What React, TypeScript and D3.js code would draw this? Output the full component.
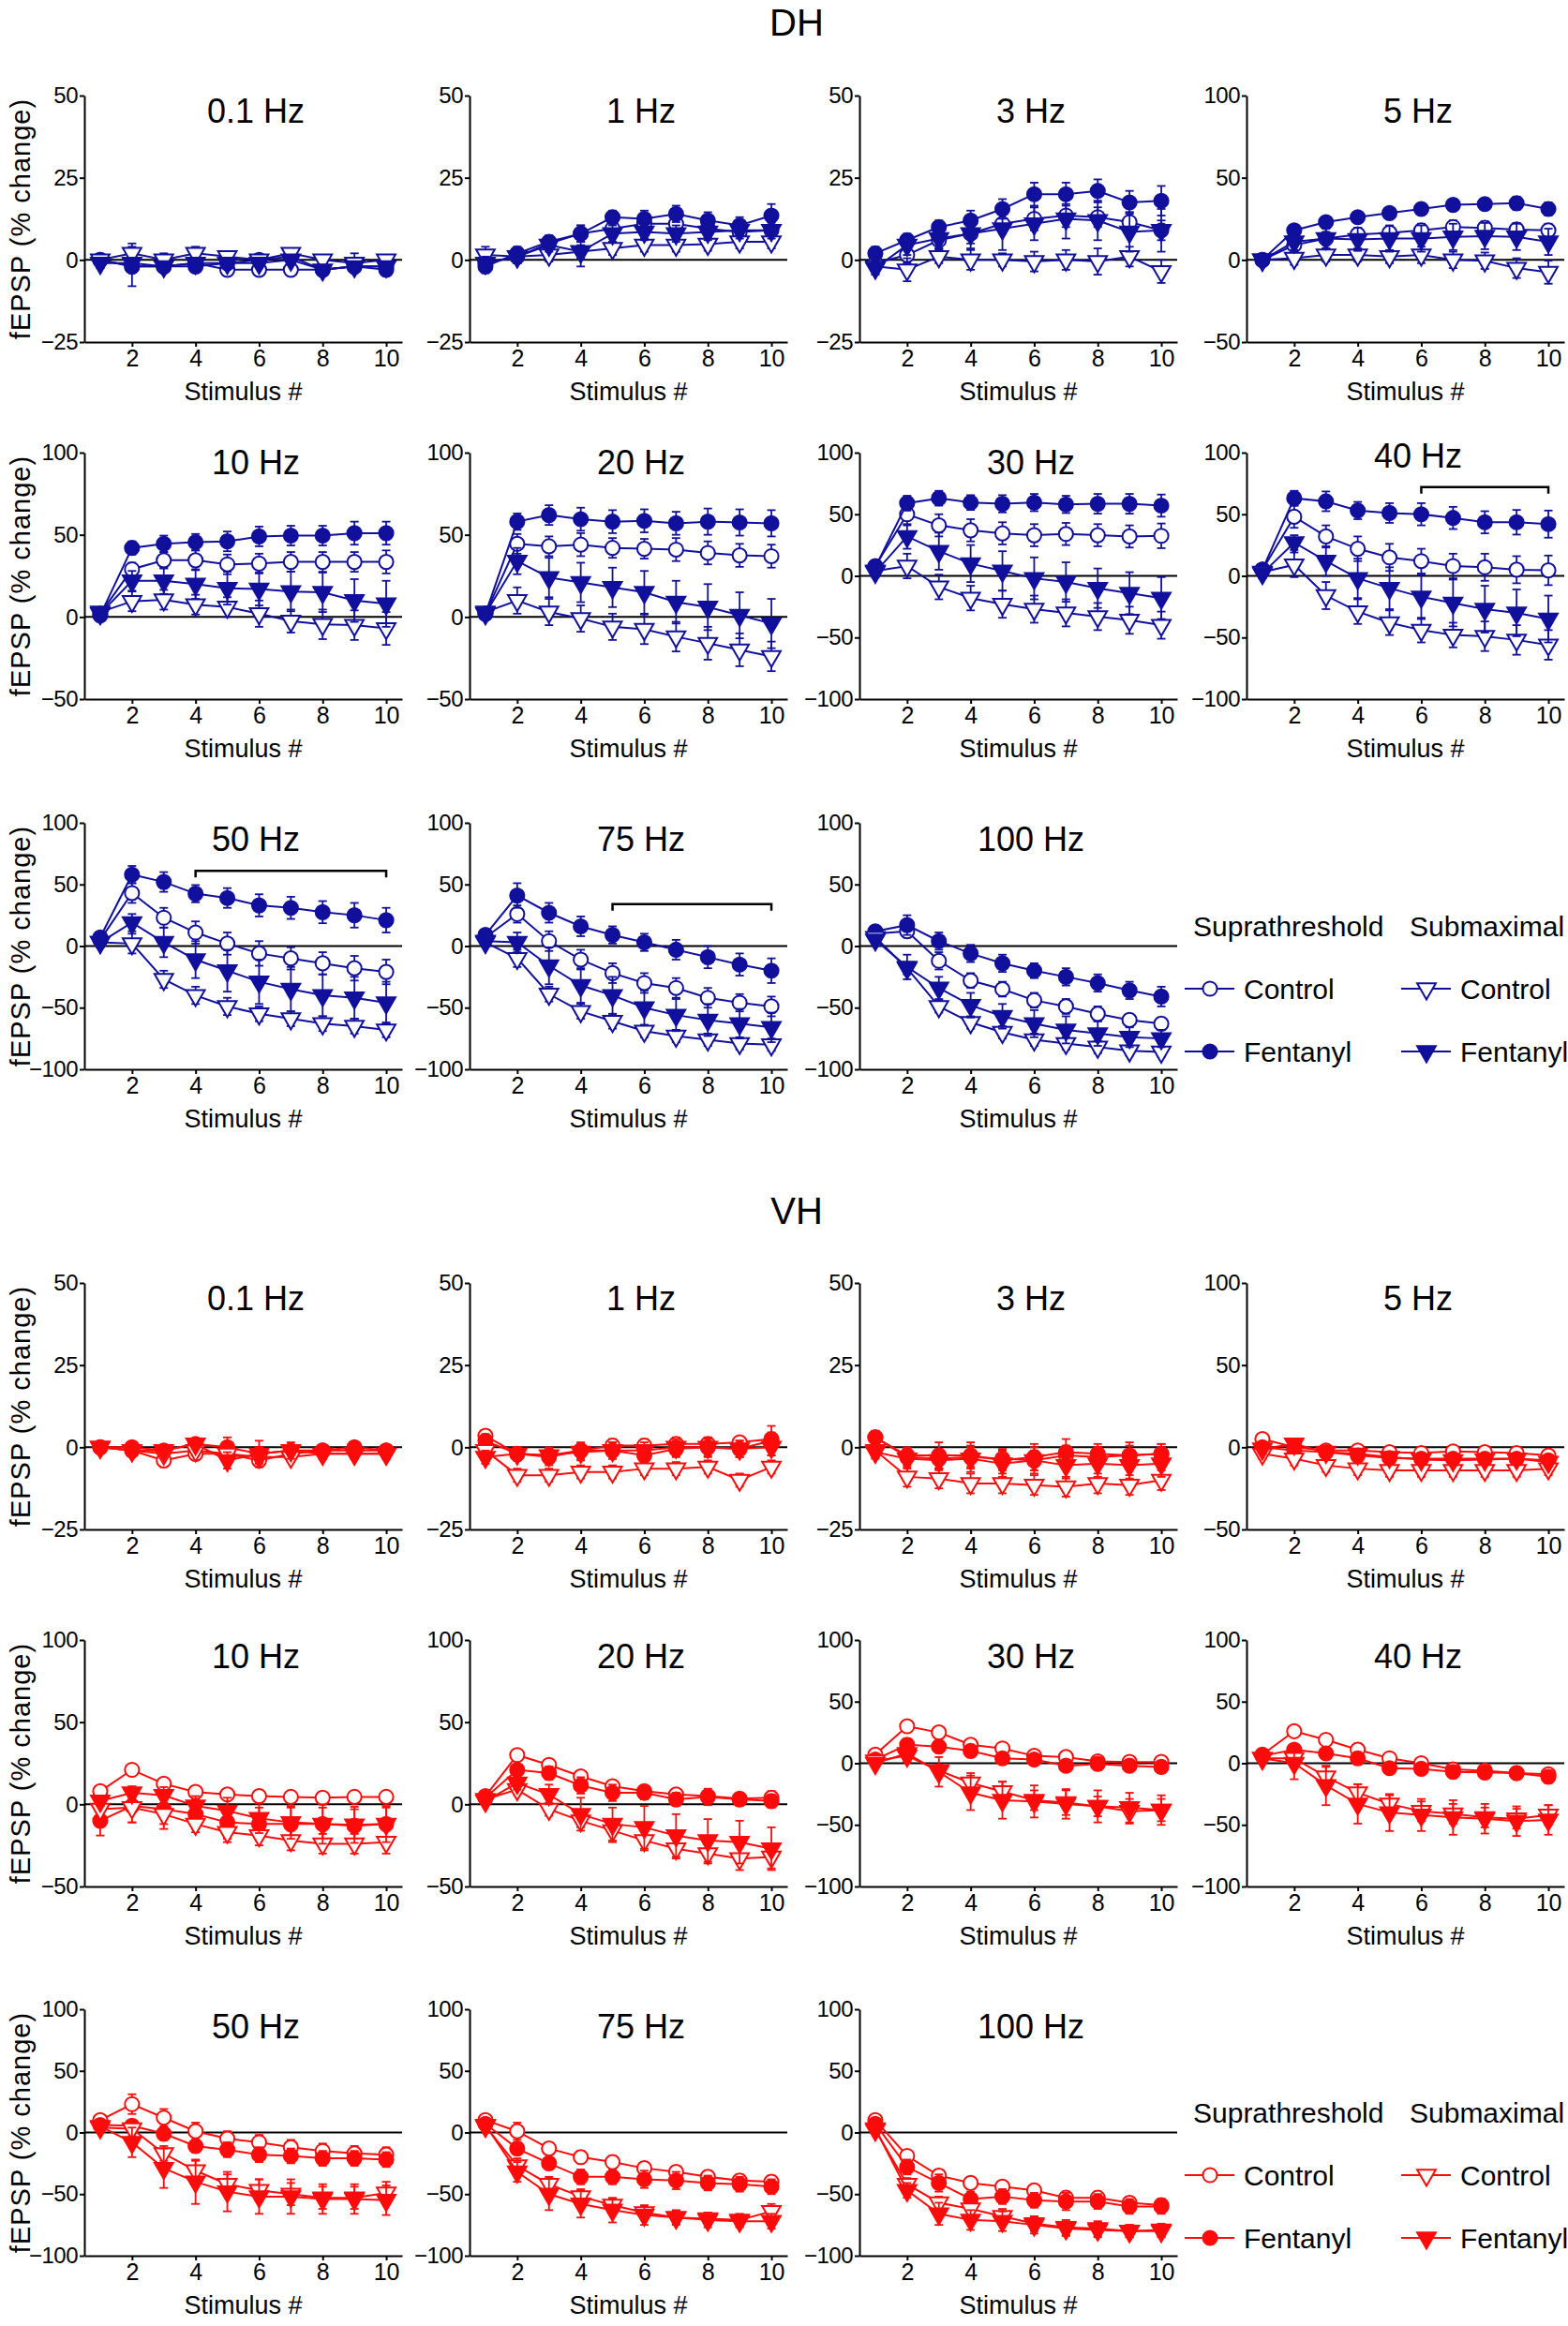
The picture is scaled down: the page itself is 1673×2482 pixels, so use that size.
import React, { useEffect, useRef } from "react";
import * as d3 from "d3";

// stimulus numbers (x categories) and tick sets
const stimulusNumbers = [1, 2, 3, 4, 5, 6, 7, 8, 9, 10];
const xTickValues = [2, 4, 6, 8, 10];
const ticksSmall = [-25, 0, 25, 50];
const ticksMid = [-50, 0, 50, 100];
const ticksLarge = [-100, -50, 0, 50, 100];

const frequencies = ["0.1 Hz", "1 Hz", "3 Hz", "5 Hz", "10 Hz", "20 Hz", "30 Hz", "40 Hz", "50 Hz", "75 Hz", "100 Hz"];
const panelTicks = [ticksSmall, ticksSmall, ticksSmall, ticksMid, ticksMid, ticksMid, ticksLarge, ticksLarge, ticksLarge, ticksLarge, ticksLarge];

// series order in every panel: supra control, supra fentanyl, submax control, submax fentanyl
// ---- DH means / SEM ----
const dh_0p1 = [
  [0, -2, -2, -1, -3, -3, -3, -3, -2, -2],
  [0, -2, -2, -2, -1, 0, 1, -3, -2, -3],
  [0, 2, 0, 2, 1, 0, 2, 0, -1, 0],
  [-1, -1, -2, -1, -1, -1, 0, -3, -2, -2],
];
const dh_0p1_sem = [
  [1, 1, 1, 1, 1, 1.5, 1, 1, 1.5, 1],
  [1, 6, 1.5, 1.5, 1, 1, 1, 1.5, 1.5, 1.5],
  [1, 3, 2, 2, 1.5, 1.5, 1.5, 1.5, 3, 1.5],
  [1.5, 1.5, 1.5, 1.5, 1.5, 1.5, 1.5, 1.5, 1.5, 1.5],
];
const dh_1 = [
  [-1, 1, 5, 8, 9.5, 11, 11, 9.5, 8.5, 9],
  [-2, 2, 5.5, 8, 13, 12.5, 14, 12, 10.5, 13.5],
  [1.5, 1, 1.5, 2.5, 3.5, 4.5, 4.5, 4.8, 5.5, 5.5],
  [-1, 1, 4.5, 2.5, 8, 8.5, 8, 8.5, 9, 9],
];
const dh_1_sem = [
  [2, 2, 2, 2.5, 2, 2, 2, 2, 2, 2.5],
  [2, 2, 2, 2.5, 2, 2.5, 2.5, 2.5, 2.5, 3.5],
  [2.5, 2, 2, 2, 2, 2, 2, 2, 2, 2],
  [2, 2, 2, 4.5, 2.5, 2.5, 2.5, 2.5, 2.5, 2.5],
];
const dh_3 = [
  [-1, 1.5, 6, 8, 11, 12.5, 13.5, 13, 11.5, 9],
  [2, 6, 10, 12, 15.5, 20, 20, 21, 17.5, 18],
  [-2, -3, 1, 0, 0, -0.5, 0, -0.5, 1, -3.5],
  [-2.5, 4.5, 6.5, 8, 9.5, 11, 12.5, 12, 8.5, 9],
];
const dh_3_sem = [
  [2, 2.5, 2.5, 3, 3, 3.5, 3.5, 3, 3, 3],
  [2, 2, 2, 3, 3, 3.5, 3.5, 3.5, 3.5, 4.5],
  [2, 3.5, 2, 3, 2, 3, 3, 4, 3, 3.5],
  [2, 3, 3, 4.5, 6.5, 5, 6, 6, 6, 6.5],
];
const dh_5 = [
  [0, 9, 13, 15.5, 16.5, 18, 20, 19.5, 18.5, 18],
  [0, 18, 23, 26, 28.5, 31, 33.5, 34, 34.5, 31],
  [0, 1, 3, 3, 2, 3, 0, -0.5, -5, -7.5],
  [0, 11, 13, 12.5, 13, 13, 14, 14.5, 14, 11],
];
const dh_5_sem = [
  [2, 3, 4, 4, 4, 4, 4, 4, 4, 4],
  [2, 3, 3, 3, 3, 3.5, 3.5, 3.5, 4, 4],
  [2, 4, 4, 4, 4, 5, 5, 5, 6, 7],
  [2, 5, 6, 7, 8, 8, 8, 8, 8, 8],
];
const dh_10 = [
  [2, 29, 34.5, 34.5, 32, 32.5, 33.5, 33.5, 33.5, 33.5],
  [1, 42, 44.5, 45.5, 46, 49, 49.5, 49.5, 51, 51],
  [3, 9.5, 10.5, 7.5, 6, 2, -2.5, -4.5, -5, -7],
  [2, 22, 22, 20, 17.5, 17, 15.5, 15, 10, 8],
];
const dh_10_sem = [
  [2, 4, 5, 6, 6, 6, 6, 6, 6, 7],
  [2, 4, 5, 5, 6, 6, 6, 6, 7, 7],
  [2, 6, 6, 6, 6, 8, 7, 9, 9, 10],
  [2, 6, 8, 9, 10, 10, 12, 12, 13, 14],
];
const dh_20 = [
  [2, 44.5, 43, 44, 42, 41.5, 41, 39, 37.5, 37],
  [2, 58, 62, 59.5, 58, 58.5, 57, 58, 57.5, 57],
  [3, 10, 3, -1, -6, -7.5, -12, -16, -20, -24],
  [2, 34, 24, 21, 18, 15, 9, 6, 1, -4],
];
const dh_20_sem = [
  [2, 6, 6, 7, 6, 6, 7, 7, 7, 7],
  [2, 5, 6, 7, 7, 7, 7, 8, 8, 8],
  [2, 8, 8, 8, 8, 9, 9, 10, 10, 9],
  [2, 8, 12, 12, 12, 13, 13, 14, 14, 15],
];
const dh_30 = [
  [8, 50, 41, 37, 34.5, 33, 34, 33, 32, 32.5],
  [7, 59, 63, 59.5, 58.5, 59.5, 58, 58.5, 58.5, 57],
  [4, 8, -9, -18, -23, -27, -30, -33, -36, -40],
  [3, 32, 20, 10, 4, -2, -5, -10, -14, -18],
];
const dh_30_sem = [
  [4, 9, 9, 9, 9, 9, 9, 9, 9, 10],
  [4, 6, 6, 6, 7, 7, 7, 8, 8, 9],
  [4, 10, 10, 10, 11, 11, 11, 11, 11, 11],
  [4, 10, 15, 15, 16, 17, 16, 16, 17, 17],
];
const dh_40 = [
  [5, 48, 32, 22, 15, 12, 8, 7, 5, 4.5],
  [5, 63, 60.5, 53, 51, 50, 47, 43.5, 43.5, 42],
  [3, 9, -16, -29, -38, -44, -48, -49, -52, -56],
  [2, 27, 12, -2, -10, -17, -22, -27, -30, -35],
];
const dh_40_sem = [
  [4, 9, 9, 10, 11, 10, 10, 11, 11, 12],
  [4, 6, 8, 7, 8, 9, 9, 9, 10, 11],
  [4, 10, 11, 10, 10, 10, 10, 12, 12, 12],
  [4, 6, 12, 16, 17, 18, 19, 19, 19, 19],
];
const dh_50 = [
  [5, 43, 23, 11, 2, -6, -10, -14, -18, -21],
  [7, 58, 52, 42.5, 39, 33, 31, 27.5, 25, 21],
  [3, 2, -27, -40, -49, -55, -59, -63, -65, -68],
  [3, 19, 3, -11, -20, -29, -35, -40, -42, -46],
];
const dh_50_sem = [
  [4, 8, 8, 9, 9, 10, 9, 9, 10, 10],
  [4, 7, 8, 7, 8, 9, 9, 9, 10, 10],
  [4, 8, 7, 7, 7, 6, 6, 6, 6, 6],
  [4, 7, 12, 15, 17, 18, 18, 17, 17, 17],
];
const dh_75 = [
  [7, 26, 4, -11, -22, -30, -34, -42, -46, -49],
  [9, 41, 27, 16, 9, 3, -3, -9, -15, -20],
  [3, -10, -39, -53, -61, -69, -73, -76, -79, -80],
  [4, 3, -16, -32, -40, -50, -56, -60, -63, -66],
];
const dh_75_sem = [
  [3, 7, 8, 8, 8, 8, 8, 8, 7, 8],
  [3, 10, 8, 8, 7, 7, 8, 9, 9, 10],
  [3, 7, 6, 6, 6, 5, 5, 5, 5, 5],
  [3, 8, 15, 14, 15, 14, 13, 13, 12, 12],
];
const dh_100 = [
  [10, 12, -12, -28, -35, -44, -49, -55, -60, -63],
  [12, 17, 4, -6, -14, -20, -25, -30, -36, -41],
  [7, -18, -49, -62, -70, -76, -79, -82, -85, -86],
  [5, -17, -34, -48, -57, -63, -68, -71, -74, -75],
];
const dh_100_sem = [
  [4, 5, 7, 6, 6, 6, 6, 6, 5, 5],
  [4, 8, 7, 7, 7, 6, 7, 7, 7, 8],
  [3, 5, 5, 5, 5, 5, 5, 5, 4, 4],
  [3, 10, 9, 10, 10, 11, 11, 10, 8, 7],
];

// ---- VH means / SEM ----
const vh_0p1 = [
  [0, -1, -4, -2, -2, -4, -2, -1, -1, -1],
  [0, 0, -1, 1, 0, -2, -1, -1, 0, -1],
  [0, -1, -2, -1, -2, -3, -3, -2, -2, -2],
  [0, -1, -1, 1, -4, -2, -1, -2, -2, -2],
];
const vh_0p1_sem = [
  [1.5, 1.5, 2, 1.5, 1.5, 2, 1.5, 1.5, 1.5, 1.5],
  [1, 1, 1.5, 1.5, 3, 4, 1.5, 1.5, 1.5, 1.5],
  [1, 1.5, 1.5, 1.5, 1.5, 2, 1.5, 1.5, 1.5, 1.5],
  [1, 1.5, 1.5, 1.5, 2.5, 2, 2.5, 1.5, 1.5, 1.5],
];
const vh_1 = [
  [3.5, -2, -2.5, -1, 0.5, 0.5, 1, 1, 1.5, 2.5],
  [2, -2, -3, -1, -1, -2.5, -0.5, 0, -0.5, 2],
  [-1, -8.5, -8.5, -7.5, -7.5, -6.5, -6.5, -6, -10, -6],
  [-3, -2, -2.5, -1.5, -1, -1, 0, 0, -0.5, 0],
];
const vh_1_sem = [
  [1.5, 2, 2, 2, 2, 2, 2, 2, 1.5, 2],
  [2, 2, 2.5, 2.5, 2.5, 2.5, 2.5, 3, 2.5, 4.5],
  [2, 2, 2, 2, 2, 2, 2, 2, 2, 2],
  [2, 2, 2.5, 2.5, 2.5, 2.5, 2.5, 2.5, 2.5, 2.5],
];
const vh_3 = [
  [3, -3, -3.5, -3, -3.5, -4, -2.5, -3, -2.5, -2],
  [3, -2.5, -2.5, -2.5, -4, -3, -1.5, -2, -2.5, -2],
  [-1, -9, -9.5, -11, -11, -11.5, -12, -11, -11.5, -10],
  [-1.5, -3.5, -4, -3.5, -5, -4, -5.5, -5, -5.5, -5],
];
const vh_3_sem = [
  [2, 2.5, 3, 3, 3, 3, 3, 3, 3, 3],
  [2, 2.5, 4, 4, 3, 4, 4, 3, 4, 3],
  [2, 3, 3, 3, 3, 3, 3, 3, 3, 3],
  [2, 3, 3, 4, 4, 4, 4, 4, 4, 4],
];
const vh_5 = [
  [5, 0, -2, -2, -3, -3.5, -2.5, -3, -3.5, -5],
  [0, -2, -3, -5, -6.5, -7, -7, -7, -7, -8],
  [-4, -7, -11, -13, -14, -14, -14, -14, -14, -13],
  [-1, 2, -3, -4, -6, -7.5, -8, -7.5, -7, -9],
];
const vh_5_sem = [
  [2, 2, 2, 2, 2, 2, 2, 2, 2, 2],
  [2, 2, 3, 3, 3, 3, 3, 3, 3, 3],
  [3, 4, 4, 4, 4, 4, 4, 4, 4, 4],
  [3, 3, 3, 3, 3, 3, 3, 3, 3, 3],
];
const vh_10 = [
  [8, 21, 12.5, 7.5, 6, 5, 4.5, 4, 4.5, 4.5],
  [-10, -1, -3, -6, -11, -12, -12, -12, -13, -12],
  [-3, -2, -6, -12, -17, -19, -22, -24, -24, -23],
  [2, 7, 5.5, -1, -4, -8.5, -11, -12, -12.5, -12],
];
const vh_10_sem = [
  [2, 3, 3, 3, 3, 3.5, 3.5, 3.5, 3.5, 3.5],
  [9, 10, 9, 9, 10, 10, 10, 10, 10, 10],
  [4, 9, 9, 5, 6, 6, 6, 6, 6, 7],
  [3, 4, 5, 6, 8, 9, 10, 12, 11, 11],
];
const vh_20 = [
  [5, 30, 24, 17, 11, 8, 6, 5, 3.5, 4],
  [4, 21, 19, 11.5, 7, 7, 3, 4.5, 3, 2],
  [3, 9, -3, -10, -16, -22, -27, -30, -33, -32],
  [2, 13, 6, -6, -12, -14, -19, -22, -23, -27],
];
const vh_20_sem = [
  [2, 3, 3, 3, 3, 3, 3, 3, 3, 4],
  [2, 3, 4, 5, 5, 4, 4, 5, 4, 4],
  [2, 3, 4, 4, 7, 6, 6, 6, 7, 7],
  [2, 4, 6, 10, 10, 13, 13, 13, 13, 13],
];
const vh_30 = [
  [7, 30, 25, 15, 12, 6, 5, 1.5, 1, 1],
  [3, 15, 13.5, 10, 4, 3, -2, -0.5, -2, -3],
  [2, 6, -6, -16, -23, -30, -32, -35, -39, -38],
  [0, 8, -7, -24, -30, -31, -33, -35, -36, -38],
];
const vh_30_sem = [
  [3, 4, 4, 4, 4, 4, 4, 4, 4, 4],
  [3, 5, 5, 5, 4, 4, 4, 5, 4, 5],
  [3, 5, 5, 8, 8, 8, 10, 8, 10, 9],
  [3, 7, 12, 14, 15, 13, 12, 13, 12, 12],
];
const vh_40 = [
  [7, 26, 19, 11, 4, 0, -5, -6, -8, -9],
  [6, 11, 8, 4, -4, -4.5, -7, -7.5, -8, -11],
  [4, 4, -11, -24, -33, -39, -41, -44, -45, -42],
  [4, 0, -18, -33, -40, -42, -44, -45, -47, -46],
];
const vh_40_sem = [
  [4, 4, 4, 5, 4, 4, 4, 4, 4, 4],
  [4, 4, 4, 5, 4, 4, 5, 5, 5, 5],
  [4, 6, 8, 7, 7, 8, 8, 8, 8, 8],
  [4, 13, 16, 16, 15, 13, 14, 12, 12, 12],
];
const vh_50 = [
  [10, 23, 12, 1, -5, -8, -12, -15, -17, -18],
  [6, 5.5, -1, -11, -14, -18, -19, -21, -21, -22],
  [4, 3, -17, -31, -42, -47, -50, -53, -53, -49],
  [5, -8, -29, -40, -48, -52, -52, -54, -54, -55],
];
const vh_50_sem = [
  [4, 8, 7, 7, 6, 6, 6, 6, 6, 6],
  [4, 4, 5, 5, 6, 6, 6, 6, 6, 6],
  [4, 6, 6, 8, 8, 9, 9, 9, 9, 9],
  [4, 12, 16, 18, 16, 14, 14, 12, 12, 12],
];
const vh_75 = [
  [10, 1, -13, -20, -24, -29, -32, -36, -39, -40],
  [7, -13, -25, -36, -36, -38, -39, -41, -42, -44],
  [5, -27, -42, -52, -59, -65, -69, -70, -71, -64],
  [6, -32, -50, -58, -63, -67, -69, -71, -72, -72],
];
const vh_75_sem = [
  [3, 7, 5, 5, 5, 5, 5, 5, 5, 5],
  [3, 5, 5, 6, 6, 7, 7, 6, 6, 6],
  [3, 6, 6, 6, 5, 5, 5, 5, 5, 6],
  [3, 8, 13, 11, 10, 8, 6, 6, 5, 6],
];
const vh_100 = [
  [10, -19, -35, -41, -44, -47, -53, -53, -57, -59],
  [7, -28, -41, -54, -52, -55, -56, -56, -60, -60],
  [2, -42, -57, -62, -68, -74, -77, -78, -80, -79],
  [3, -47, -66, -71, -72, -75, -78, -79, -80, -80],
];
const vh_100_sem = [
  [3, 4, 5, 5, 5, 5, 5, 5, 5, 5],
  [3, 6, 7, 6, 6, 6, 7, 6, 6, 6],
  [3, 5, 5, 6, 6, 6, 6, 6, 5, 5],
  [3, 6, 9, 8, 8, 7, 6, 6, 5, 5],
];

const dhMeans = [dh_0p1, dh_1, dh_3, dh_5, dh_10, dh_20, dh_30, dh_40, dh_50, dh_75, dh_100];
const dhSems = [dh_0p1_sem, dh_1_sem, dh_3_sem, dh_5_sem, dh_10_sem, dh_20_sem, dh_30_sem, dh_40_sem, dh_50_sem, dh_75_sem, dh_100_sem];
const vhMeans = [vh_0p1, vh_1, vh_3, vh_5, vh_10, vh_20, vh_30, vh_40, vh_50, vh_75, vh_100];
const vhSems = [vh_0p1_sem, vh_1_sem, vh_3_sem, vh_5_sem, vh_10_sem, vh_20_sem, vh_30_sem, vh_40_sem, vh_50_sem, vh_75_sem, vh_100_sem];

// significance brackets (DH only): [panel index, from stimulus, to stimulus, y value]
const dhBrackets = [
  [7, 6, 10, 72],
  [8, 4, 10, 61],
  [9, 5, 10, 34],
];

const legendGroups = ["Suprathreshold", "Submaximal"];
const legendLabels = ["Control", "Fentanyl"];

const FONT = "'Liberation Sans', Arial, Helvetica, sans-serif";
const BLUE = "#10109c";
const RED = "#ff0a0a";

const W = 1673;
const H = 2482;
const colX = [90, 501, 917, 1330];
const plotW = 339;
const plotH = 263;
const dhRowTop = [102, 483, 878];
const vhRowTop = [1369, 1750, 2144];
const dhTitleDy = [16, 16, 16, 16, 10, 10, 10, 3, 17, 17, 17];
const vhTitleDy = [16, 16, 16, 16, 17, 17, 17, 17, 18, 18, 18];

// marker kinds: open circle, filled circle, open triangle down, filled triangle down
const markerKinds = [
  { shape: "circle", filled: false },
  { shape: "circle", filled: true },
  { shape: "tri", filled: false },
  { shape: "tri", filled: true },
];

const drawMarker = (g, cx, cy, kind, color) => {
  const sym = d3
    .symbol()
    .type(kind.shape === "circle" ? d3.symbolCircle : d3.symbolTriangle)
    .size(kind.shape === "circle" ? 180 : 170);
  g.append("path")
    .attr("d", sym())
    .attr("transform", `translate(${cx},${cy})` + (kind.shape === "tri" ? " rotate(180)" : ""))
    .attr("fill", kind.filled ? color : "white")
    .attr("stroke", color)
    .attr("stroke-width", 2);
};

const drawPanel = (svg, x0, y0, idx, means, sems, color, titleDy, showYLabel) => {
  const ticks = panelTicks[idx];
  const x = d3.scaleLinear().domain([0.5, 10.5]).range([x0, x0 + plotW]);
  const y = d3
    .scaleLinear()
    .domain([ticks[0], ticks[ticks.length - 1]])
    .range([y0 + plotH, y0]);

  const g = svg.append("g");

  // y axis
  const ya = g
    .append("g")
    .attr("transform", `translate(${x0},0)`)
    .call(d3.axisLeft(y).tickValues(ticks).tickSizeInner(5).tickSizeOuter(0).tickPadding(2));
  ya.attr("font-size", 24).attr("font-family", FONT);
  ya.select(".domain").attr("stroke-width", 2);
  ya.selectAll(".tick line").attr("stroke-width", 2);
  ya.selectAll(".tick text").attr("fill", "black").attr("letter-spacing", -0.5);

  // x axis
  const xa = g
    .append("g")
    .attr("transform", `translate(0,${y0 + plotH})`)
    .call(d3.axisBottom(x).tickValues(xTickValues).tickSizeInner(5).tickSizeOuter(0).tickPadding(3));
  xa.attr("font-size", 25).attr("font-family", FONT);
  xa.select(".domain").attr("stroke-width", 2);
  xa.selectAll(".tick line").attr("stroke-width", 2);
  xa.selectAll(".tick text").attr("fill", "black");

  // zero line
  g.append("line")
    .attr("x1", x0)
    .attr("x2", x0 + plotW)
    .attr("y1", y(0))
    .attr("y2", y(0))
    .attr("stroke", "black")
    .attr("stroke-width", 2);

  // series
  means.forEach((vals, s) => {
    const sg = g.append("g");
    const line = d3
      .line()
      .x((d, i) => x(stimulusNumbers[i]))
      .y((d) => y(d));
    sg.append("path")
      .datum(vals)
      .attr("fill", "none")
      .attr("stroke", color)
      .attr("stroke-width", 2)
      .attr("d", line);
    vals.forEach((v, i) => {
      const e = sems[s][i];
      const cx = x(stimulusNumbers[i]);
      sg.append("line")
        .attr("x1", cx).attr("x2", cx)
        .attr("y1", y(v - e)).attr("y2", y(v + e))
        .attr("stroke", color).attr("stroke-width", 1.8);
      [v - e, v + e].forEach((b) => {
        sg.append("line")
          .attr("x1", cx - 4.5).attr("x2", cx + 4.5)
          .attr("y1", y(b)).attr("y2", y(b))
          .attr("stroke", color).attr("stroke-width", 1.8);
      });
    });
    vals.forEach((v, i) => drawMarker(sg, x(stimulusNumbers[i]), y(v), markerKinds[s], color));
  });

  // title
  g.append("text")
    .attr("x", x0 + 183)
    .attr("y", y0 + titleDy)
    .attr("text-anchor", "middle")
    .attr("dominant-baseline", "central")
    .attr("font-family", FONT)
    .attr("font-size", 36)
    .text(frequencies[idx]);

  // x label
  g.append("text")
    .attr("x", x0 + plotW / 2)
    .attr("y", y0 + plotH + 53)
    .attr("text-anchor", "middle")
    .attr("dominant-baseline", "central")
    .attr("font-family", FONT)
    .attr("font-size", 27)
    .text("Stimulus #");

  if (showYLabel) {
    g.append("text")
      .attr("transform", `translate(22,${y0 + plotH / 2}) rotate(-90)`)
      .attr("text-anchor", "middle")
      .attr("dominant-baseline", "central")
      .attr("font-family", FONT)
      .attr("font-size", 29)
      .attr("letter-spacing", 1)
      .text("fEPSP (% change)");
  }

  return { x, y, g };
};

const drawLegend = (svg, top, color) => {
  const groupX = [1264, 1495];
  groupX.forEach((lx, gi) => {
    svg.append("text")
      .attr("x", lx + 9)
      .attr("y", top)
      .attr("dominant-baseline", "central")
      .attr("font-family", FONT)
      .attr("font-size", 30)
      .text(legendGroups[gi]);
    legendLabels.forEach((lab, li) => {
      const cy = top + 67 * (li + 1);
      svg.append("line")
        .attr("x1", lx).attr("x2", lx + 53)
        .attr("y1", cy).attr("y2", cy)
        .attr("stroke", color).attr("stroke-width", 2);
      drawMarker(svg, lx + 27, cy, markerKinds[gi * 2 + li], color);
      svg.append("text")
        .attr("x", lx + 63)
        .attr("y", cy)
        .attr("dominant-baseline", "central")
        .attr("font-family", FONT)
        .attr("font-size", 30)
        .text(lab);
    });
  });
};

const App = () => {
  const ref = useRef(null);

  useEffect(() => {
    const svg = d3.select(ref.current);
    svg.selectAll("*").remove();

    svg.append("rect").attr("width", W).attr("height", H).attr("fill", "white");

    const sections = [
      { name: "DH", titleY: 24, rows: dhRowTop, means: dhMeans, sems: dhSems, color: BLUE, tdy: dhTitleDy, brackets: dhBrackets },
      { name: "VH", titleY: 1292, rows: vhRowTop, means: vhMeans, sems: vhSems, color: RED, tdy: vhTitleDy, brackets: [] },
    ];

    sections.forEach((sec) => {
      svg.append("text")
        .attr("x", 850)
        .attr("y", sec.titleY)
        .attr("text-anchor", "middle")
        .attr("dominant-baseline", "central")
        .attr("font-family", FONT)
        .attr("font-size", 40)
        .text(sec.name);

      const scales = [];
      frequencies.forEach((f, idx) => {
        const row = Math.floor(idx / 4);
        const col = idx % 4;
        scales.push(
          drawPanel(svg, colX[col], sec.rows[row], idx, sec.means[idx], sec.sems[idx], sec.color, sec.tdy[idx], col === 0)
        );
      });

      sec.brackets.forEach(([pi, from, to, yv]) => {
        const { x, y, g } = scales[pi];
        const by = y(yv);
        g.append("path")
          .attr("d", `M${x(from)},${by + 7}V${by}H${x(to)}V${by + 7}`)
          .attr("fill", "none")
          .attr("stroke", "black")
          .attr("stroke-width", 2.5);
      });

      drawLegend(svg, sec.rows[2] + 110, sec.color);
    });
  }, []);

  return (
    <svg
      ref={ref}
      width={W}
      height={H}
      style={{ position: "absolute", left: 0, top: 0, display: "block" }}
    />
  );
};

export default App;
